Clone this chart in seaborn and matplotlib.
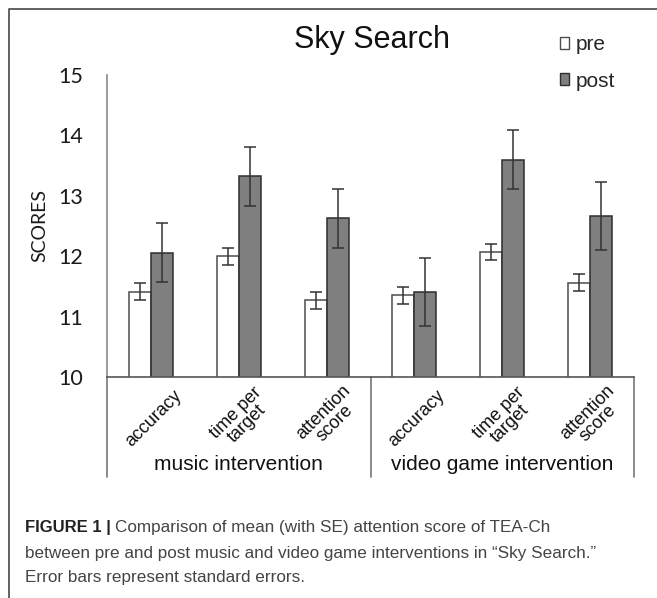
import matplotlib
matplotlib.use("Agg")
import matplotlib.pyplot as plt
from matplotlib.lines import Line2D
import numpy as np
import pandas as pd
import seaborn as sns

# Sky Search results: mean scores with standard errors
groups = ["music intervention", "video game intervention"]
measures = ["accuracy", "time per\ntarget", "attention\nscore"]
phases = ["pre", "post"]
pre_means = [11.41, 12.00, 11.27, 11.35, 12.07, 11.56]
pre_se = [0.14, 0.14, 0.14, 0.14, 0.14, 0.14]
post_means = [12.06, 13.32, 12.63, 11.41, 13.60, 12.67]
post_se = [0.49, 0.49, 0.49, 0.56, 0.49, 0.56]
y_ticks = [10, 11, 12, 13, 14, 15]

keys = [f"{g}|{m}" for g in groups for m in measures]
df = pd.DataFrame({
    "key": keys * 2,
    "phase": ["pre"] * len(keys) + ["post"] * len(keys),
    "score": pre_means + post_means,
    "se": pre_se + post_se,
})

sns.set_style("white")
plt.rcParams["font.family"] = ["Liberation Sans", "DejaVu Sans"]

W, H = 657, 598
fig = plt.figure(figsize=(W / 100, H / 100), dpi=100)
ax = fig.add_axes([107 / W, 1 - 377 / H, (634 - 107) / W, (377 - 75) / H])

sns.barplot(data=df, x="key", y="score", hue="phase", order=keys,
            hue_order=phases, palette={"pre": "white", "post": "#7f7f7f"},
            width=0.5, errorbar=None, ax=ax, legend=True)

edge = {"pre": "#4d4d4d", "post": "#2e2e2e"}
se_by_phase = {"pre": pre_se, "post": post_se}
mean_by_phase = {"pre": pre_means, "post": post_means}
for cont, ph in zip(ax.containers, phases):
    xs = []
    for bar in cont:
        bar.set_edgecolor(edge[ph])
        bar.set_linewidth(1.1)
        xs.append(bar.get_x() + bar.get_width() / 2)
    ax.errorbar(xs, mean_by_phase[ph], yerr=se_by_phase[ph], fmt="none",
                ecolor="#333333", elinewidth=1.1, capsize=4, capthick=1.1,
                zorder=5)

ax.set_ylim(10, 15)
ax.set_xlim(-0.5, len(keys) - 0.5)
ax.set_yticks(y_ticks)
ax.set_yticklabels([str(t) for t in y_ticks], family="Lato", fontsize=15.5,
                   color="#1a1a1a")
ax.tick_params(axis="y", length=0, pad=17)
ax.tick_params(axis="x", length=0, labelbottom=False)
ax.set_xlabel("")
ax.set_ylabel("")

for s in ["top", "right"]:
    ax.spines[s].set_visible(False)
ax.spines["left"].set_color("#8a8a8a")
ax.spines["left"].set_linewidth(1.2)
ax.spines["bottom"].set_color("#555555")
ax.spines["bottom"].set_linewidth(1.2)

# category table under the axis
xt = ax.get_xaxis_transform()
for i, k in enumerate(keys):
    ax.text(i + 0.03, -0.136, k.split("|")[1], transform=xt, rotation=45,
            rotation_mode="anchor", ha="center", va="center",
            multialignment="center", fontsize=13, linespacing=0.9,
            color="#111111")
for gi, g in enumerate(groups):
    ax.text(gi * 3 + 1, -0.291, g, transform=xt, ha="center", va="center",
            fontsize=15, color="#111111")
for xv in [-0.5, 2.5, 5.5]:
    ax.plot([xv, xv], [0, -0.331], transform=xt, color="#777777", lw=1.2,
            clip_on=False)

fig.text(40 / W, 1 - 226 / H, "SCORES", rotation=90, ha="center",
         va="center", family="Lato", fontsize=14, color="#1a1a1a")
fig.text(372 / W, 1 - 48 / H, "Sky Search", ha="center", va="baseline",
         fontsize=22, color="#111111")

handles, labels = ax.get_legend_handles_labels()
for h, ph in zip(handles, phases):
    h.set_edgecolor(edge[ph])
    h.set_linewidth(1.0)
ax.legend(handles, labels, loc="upper left",
          bbox_to_anchor=(560 / W, 1 - 35 / H), bbox_transform=fig.transFigure,
          frameon=False, fontsize=15, handlelength=0.45, handleheight=0.5,
          handletextpad=0.3, labelspacing=0.85, borderpad=0, borderaxespad=0)

# caption
renderer = fig.canvas.get_renderer()
cap_y = [1 - 532 / H, 1 - 558 / H, 1 - 582 / H]
bold = fig.text(25 / W, cap_y[0], "FIGURE 1 |", fontsize=12,
                fontweight="bold", color="#222222", va="baseline")
bb = bold.get_window_extent(renderer)
fig.text(bb.x1 / W + 4 / W, cap_y[0],
         "Comparison of mean (with SE) attention score of TEA-Ch",
         fontsize=12.3, color="#444444", va="baseline")
fig.text(25 / W, cap_y[1],
         "between pre and post music and video game interventions in \u201cSky Search.\u201d",
         fontsize=12.3, color="#444444", va="baseline")
fig.text(25 / W, cap_y[2], "Error bars represent standard errors.",
         fontsize=12.3, color="#444444", va="baseline")

# outer frame
fig.add_artist(Line2D([8.5 / W, 8.5 / W, 1.0], [0.0, 1 - 8.5 / H, 1 - 8.5 / H],
                      transform=fig.transFigure, color="#555555", lw=1.3))

fig.savefig("out.png", dpi=100)
